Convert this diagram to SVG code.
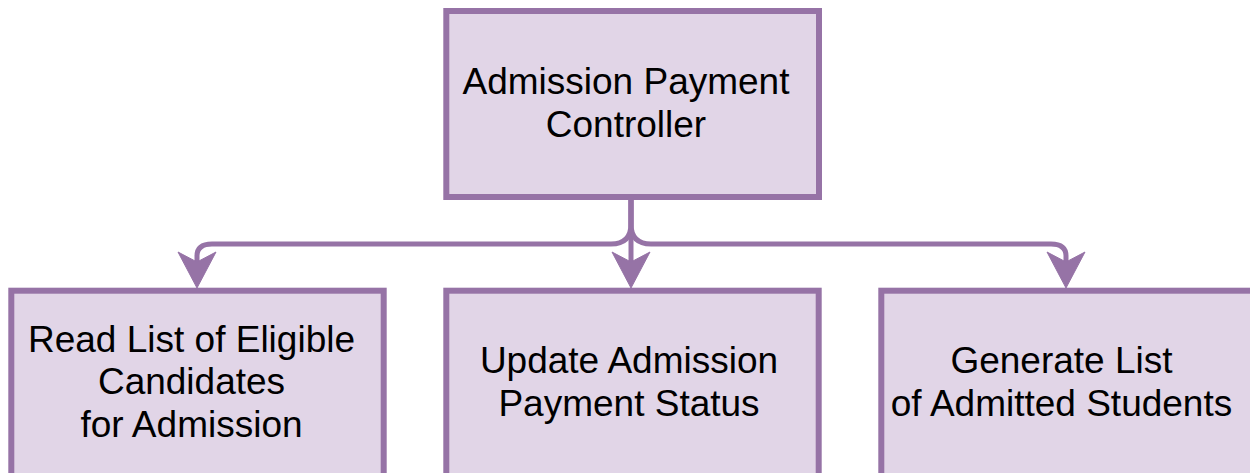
<svg xmlns="http://www.w3.org/2000/svg" width="1250" height="473" viewBox="0 0 1250 473">
<style>
.box{fill:#e1d5e7;stroke:#9673a6;stroke-width:6}
.lbl{font-family:"Liberation Sans",Arial,sans-serif;font-size:37px;fill:#000;text-anchor:middle}
.edge{fill:none;stroke:#9673a6;stroke-width:5;stroke-linejoin:round}
</style>
<defs>
<marker id="arr" markerUnits="userSpaceOnUse" markerWidth="40" markerHeight="40" refX="10" refY="20" orient="auto" overflow="visible">
<path d="M0,1 L36,20 L0,39 L10,20 Z" fill="#9673a6" stroke="#9673a6" stroke-width="1" stroke-linejoin="miter"/>
</marker>
</defs>
<rect width="1250" height="473" fill="#ffffff"/>
<g id="connectors">
<path class="edge" d="M631,200 L631,224 Q631,244 611,244 L212,244 Q197,244 197,256 L197,262" marker-end="url(#arr)"/>
<path class="edge" d="M631,200 L631,262" marker-end="url(#arr)"/>
<path class="edge" d="M631,200 L631,224 Q631,244 651,244 L1051,244 Q1066,244 1066,256 L1066,262" marker-end="url(#arr)"/>
</g>
<g id="controller">
<rect class="box" x="446.3" y="11" width="372.7" height="186"/>
<text class="lbl" x="626" y="93.5">Admission Payment</text>
<text class="lbl" x="626" y="137">Controller</text>
</g>
<g id="read-list">
<rect class="box" x="11.3" y="290.7" width="372.4" height="186"/>
<text class="lbl" x="191.5" y="351.5">Read List of Eligible</text>
<text class="lbl" x="191.5" y="394">Candidates</text>
<text class="lbl" x="191.5" y="437">for Admission</text>
</g>
<g id="update-status">
<rect class="box" x="446.3" y="290.7" width="372.4" height="186"/>
<text class="lbl" x="629" y="372.5">Update Admission</text>
<text class="lbl" x="629" y="416">Payment Status</text>
</g>
<g id="generate-list">
<rect class="box" x="881.3" y="290.7" width="372.7" height="186"/>
<text class="lbl" x="1061.5" y="372.5">Generate List</text>
<text class="lbl" x="1061.5" y="416">of Admitted Students</text>
</g>
</svg>
